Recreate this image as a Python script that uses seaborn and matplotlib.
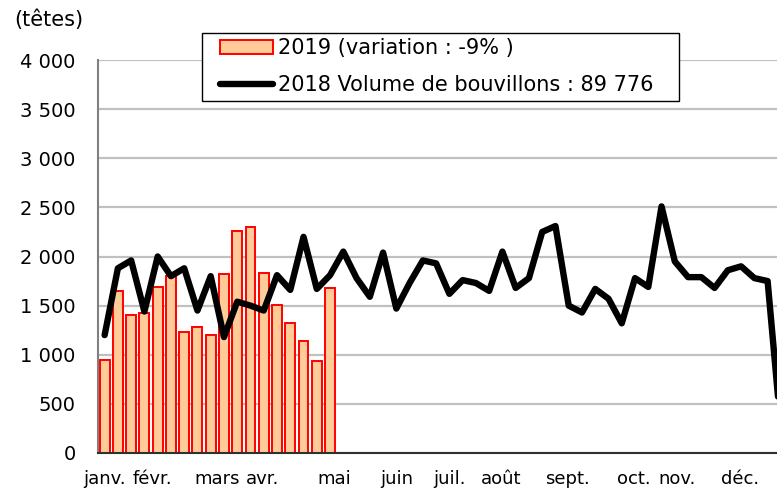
import matplotlib
matplotlib.use("Agg")
import matplotlib.pyplot as plt
import matplotlib.ticker as mticker
from matplotlib.patches import Rectangle
import numpy as np
import pandas as pd
import seaborn as sns

# semaines 2019 (barres) et 2018 (ligne)
vol_2019 = [950, 1650, 1405, 1430, 1690, 1800, 1230, 1280, 1200,
            1825, 2255, 2300, 1835, 1505, 1320, 1140, 940, 1680]
vol_2018 = [1200, 1880, 1960, 1440, 2000, 1800, 1880, 1450, 1800, 1180,
            1540, 1500, 1450, 1810, 1660, 2200, 1670, 1810, 2050, 1780,
            1590, 2040, 1470, 1730, 1960, 1930, 1620, 1760, 1730, 1650,
            2050, 1680, 1780, 2250, 2310, 1500, 1430, 1670, 1570, 1320,
            1780, 1690, 2510, 1950, 1790, 1790, 1680, 1860, 1900, 1780,
            1750, 250]
mois = ['janv.', 'févr.', 'mars', 'avr.', 'mai', 'juin', 'juil.',
        'août', 'sept.', 'oct.', 'nov.', 'déc.']
mois_pos = [0.0, 3.6, 8.5, 11.9, 17.3, 22.0, 26.0, 29.9, 34.9, 39.9, 43.2, 47.9]

label_2019 = '2019 (variation : -9% )'
label_2018 = '2018 Volume de bouvillons : 89 776'

df19 = pd.DataFrame({'semaine': np.arange(len(vol_2019)), 'volume': vol_2019})
df18 = pd.DataFrame({'semaine': np.arange(len(vol_2018)), 'volume': vol_2018})

sns.set_style('white', rc={'text.color': 'black', 'xtick.color': 'black',
                           'ytick.color': 'black', 'axes.labelcolor': 'black'})
plt.rcParams['font.family'] = ['DejaVu Sans']

fig = plt.figure(figsize=(7.77, 4.93), dpi=100)
ax = fig.add_axes([98 / 777, 40 / 493, 689.5 / 777, 393 / 493])

sns.barplot(data=df19, x='semaine', y='volume', native_scale=True, width=0.75,
            color='#FFCC99', edgecolor='red', linewidth=1.4, saturation=1,
            label=label_2019, ax=ax, zorder=2)
sns.lineplot(data=df18, x='semaine', y='volume', color='black', linewidth=4.6,
             label=label_2018, ax=ax, zorder=3)

ax.set_xlim(-0.5, 51.5)
ax.set_ylim(0, 4000)
ax.set_yticks(np.arange(0, 4001, 500))
ax.yaxis.set_major_formatter(mticker.FuncFormatter(lambda v, p: f"{int(v):,}".replace(',', ' ')))
ax.yaxis.grid(True, color='#C0C0C0', linewidth=1.6, zorder=0)
ax.set_axisbelow(True)

ax.set_xticks(mois_pos)
ax.set_xticklabels(mois)
ax.set_xticks(np.arange(-0.5, 52, 1), minor=True)
ax.tick_params(axis='x', which='major', length=0, pad=12.5, labelsize=13)
ax.tick_params(axis='x', which='minor', length=6, width=1, color='#202020', direction='out')
ax.tick_params(axis='y', length=6, width=1, color='#808080', direction='out', labelsize=14, pad=10)
ax.set_xlabel('')
ax.set_ylabel('')

for side in ['top', 'right']:
    ax.spines[side].set_visible(False)
ax.spines['left'].set_color('#808080')
ax.spines['left'].set_linewidth(1.5)
ax.spines['bottom'].set_color('#303030')
ax.spines['bottom'].set_linewidth(1.5)

fig.text(14 / 777, 1 - 20 / 493, '(têtes)', fontsize=15, va='center', ha='left')

# cadre de légende
cadre = Rectangle((202 / 777, 1 - 101 / 493), 477 / 777, 68 / 493, transform=fig.transFigure,
                  facecolor='white', edgecolor='black', linewidth=1.0, zorder=9, clip_on=False)
ax.add_patch(cadre)

handles, labels = ax.get_legend_handles_labels()
order = [labels.index(label_2019), labels.index(label_2018)]
leg = ax.legend([handles[i] for i in order], [labels[i] for i in order],
                loc='upper left', bbox_to_anchor=(220 / 777, 1 - 38 / 493),
                bbox_transform=fig.transFigure, fontsize=15, frameon=False,
                handlelength=2.55, handleheight=0.65, handletextpad=0.25, borderpad=0,
                labelspacing=0.82, borderaxespad=0)
leg.set_zorder(10)

fig.savefig('out.png', dpi=100)
